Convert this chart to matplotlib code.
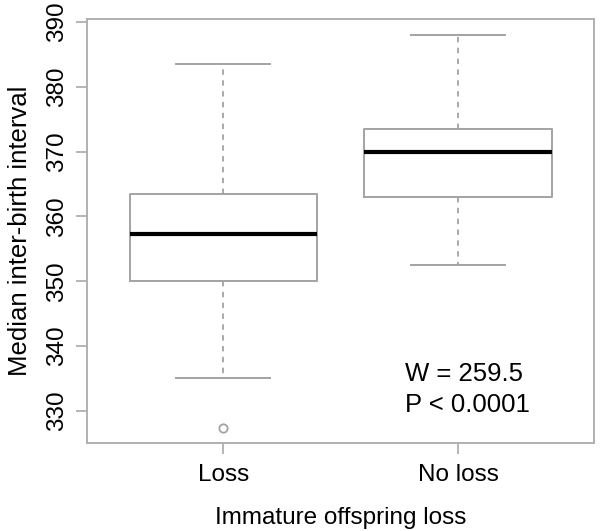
import matplotlib
matplotlib.use("Agg")
import matplotlib.pyplot as plt

plt.rcParams['font.family'] = ['Liberation Sans', 'DejaVu Sans']

categories = ["Loss", "No loss"]
medians = [357.3, 370.0]
q1 = [350.1, 363.0]
q3 = [363.5, 373.5]
whisker_low = [335.0, 352.5]
whisker_high = [383.5, 388.0]
outliers = [[327.4], []]
yticks = [330, 340, 350, 360, 370, 380, 390]

stats = []
for i, name in enumerate(categories):
    stats.append(dict(label=name, med=medians[i], q1=q1[i], q3=q3[i],
                      whislo=whisker_low[i], whishi=whisker_high[i],
                      fliers=outliers[i]))

gray = '#a3a3a3'
axgray = '#b0b0b0'

fig = plt.figure(figsize=(6.0, 5.31), dpi=100)
ax = fig.add_axes([0.1455, 0.1652, 0.99 - 0.1455, 0.9636 - 0.1652])

ax.bxp(stats, positions=[1, 2], widths=0.8, capwidths=0.4,
       boxprops=dict(color=gray, linewidth=1.4),
       whiskerprops=dict(color=gray, linewidth=1.3, linestyle=(0, (3, 3))),
       capprops=dict(color=gray, linewidth=1.4),
       medianprops=dict(color='black', linewidth=3.0, solid_capstyle='butt'),
       flierprops=dict(marker='o', markerfacecolor='none', markeredgecolor=gray,
                       markersize=6, markeredgewidth=1.3))

ax.set_xlim(0.42, 2.58)
ax.set_ylim(325.0, 390.4)
ax.set_yticks(yticks)
ax.set_yticklabels([str(t) for t in yticks], rotation=90, va='center')
ax.set_xticks([1, 2])
ax.set_xticklabels(categories)

for s in ax.spines.values():
    s.set_color(axgray)
    s.set_linewidth(1.4)
ax.tick_params(axis='both', colors=axgray, labelcolor='black', labelsize=17.5,
               length=8, width=1.3)
ax.tick_params(axis='y', pad=6)
ax.tick_params(axis='x', pad=7)

ax.set_xlabel("Immature offspring loss", fontsize=17.5, labelpad=15)
ax.set_ylabel("Median inter-birth interval", fontsize=18.5, labelpad=10)

ax.text(1.774, 334.6, "W = 259.5", fontsize=18.5, ha='left', va='baseline')
ax.text(1.774, 329.75, "P < 0.0001", fontsize=18.5, ha='left', va='baseline')

fig.savefig("out.png", dpi=100)
